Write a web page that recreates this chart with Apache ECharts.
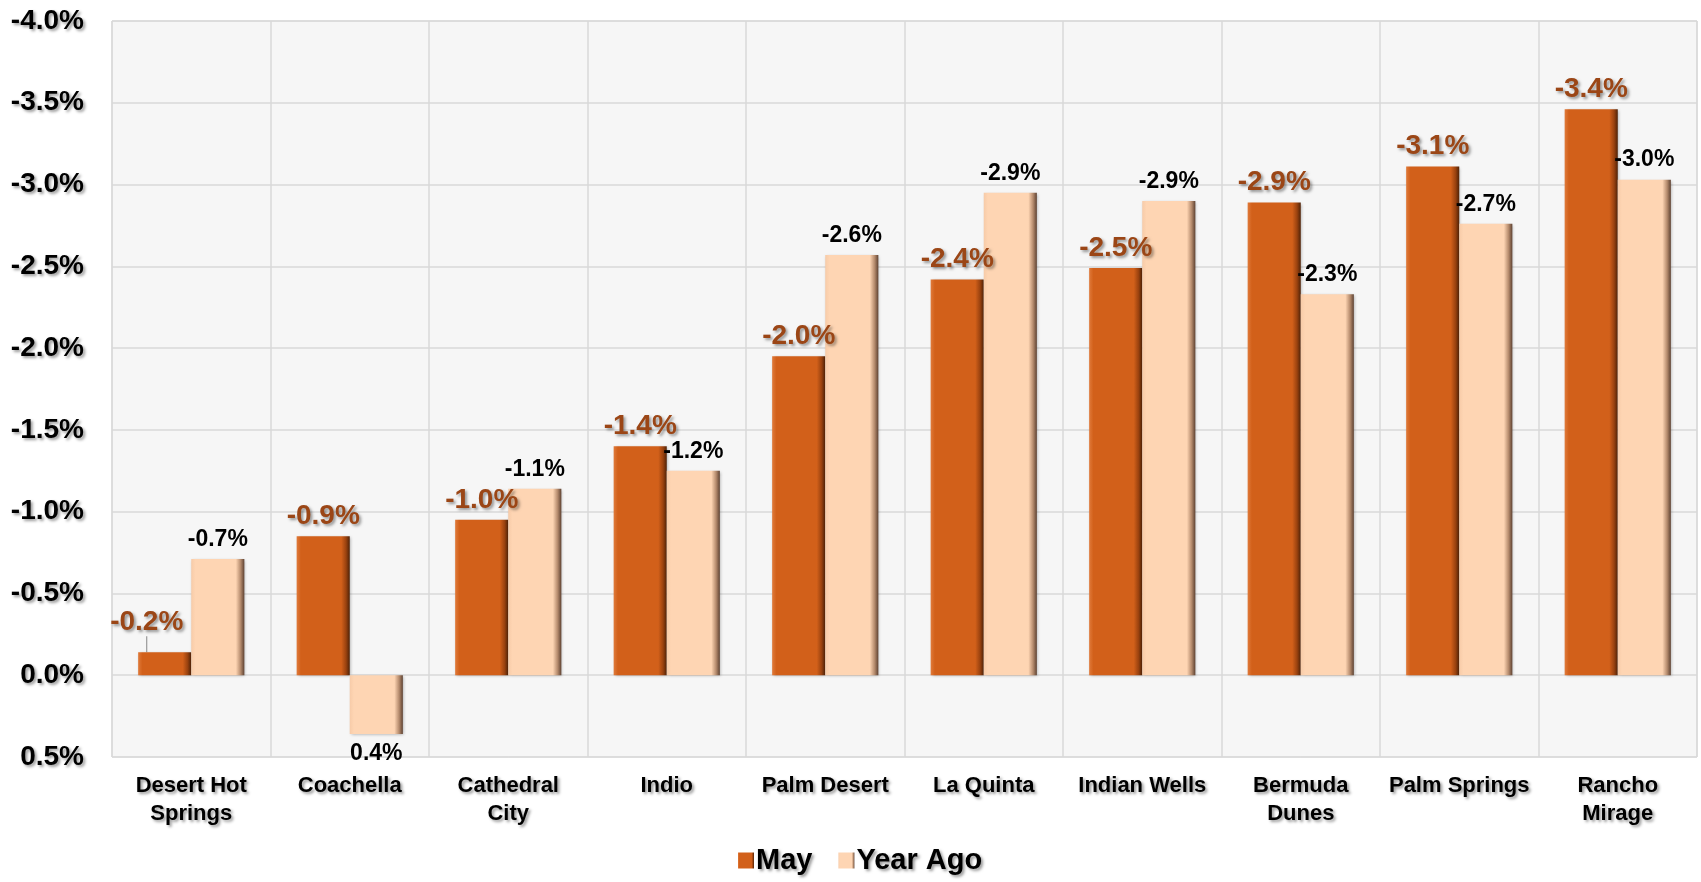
<!DOCTYPE html>
<html>
<head>
<meta charset="utf-8">
<title>May vs Year Ago</title>
<script src="https://cdn.jsdelivr.net/npm/echarts@6/dist/echarts.min.js"></script>
<style>
  html, body { margin: 0; padding: 0; background: #fff; }
  #main { width: 1701px; height: 882px; }
</style>
</head>
<body>
<div id="main"></div>
<script>
// 数据
var categories = ['Desert Hot\nSprings', 'Coachella', 'Cathedral\nCity', 'Indio', 'Palm Desert',
  'La Quinta', 'Indian Wells', 'Bermuda\nDunes', 'Palm Springs', 'Rancho\nMirage'];
var mayValues = [-0.14, -0.85, -0.95, -1.40, -1.95, -2.42, -2.49, -2.89, -3.11, -3.46];
var yearAgoValues = [-0.71, 0.36, -1.14, -1.25, -2.57, -2.95, -2.90, -2.33, -2.76, -3.03];
var mayLabels = ['-0.2%', '-0.9%', '-1.0%', '-1.4%', '-2.0%', '-2.4%', '-2.5%', '-2.9%', '-3.1%', '-3.4%'];
var yearAgoLabels = ['-0.7%', '0.4%', '-1.1%', '-1.2%', '-2.6%', '-2.9%', '-2.9%', '-2.3%', '-2.7%', '-3.0%'];
var yMin = -4.0, yMax = 0.5, yStep = 0.5;

var font = '"Liberation Sans", Arial, sans-serif';
var textShadow = {
  textShadowColor: 'rgba(0,0,0,0.4)',
  textShadowBlur: 3,
  textShadowOffsetX: 2,
  textShadowOffsetY: 2
};

function barFill(light, base, dark, darkest) {
  return new echarts.graphic.LinearGradient(0, 0, 1, 0, [
    { offset: 0, color: light },
    { offset: 0.08, color: base },
    { offset: 0.84, color: base },
    { offset: 0.93, color: dark },
    { offset: 1, color: darkest }
  ]);
}

var chartDom = document.getElementById('main');
var myChart = echarts.init(chartDom);
var option;

option = {
  animation: false,
  backgroundColor: '#ffffff',
  textStyle: { fontFamily: font },
  grid: {
    left: 112,
    right: 4,
    top: 21,
    bottom: 125,
    show: true,
    backgroundColor: '#f6f6f6',
    borderColor: '#d9d9d9',
    borderWidth: 1
  },
  legend: {
    bottom: 2,
    left: 733,
    itemWidth: 16,
    itemHeight: 16,
    itemGap: 26,
    icon: 'rect',
    textStyle: Object.assign({
      fontFamily: font,
      fontSize: 29,
      fontWeight: 'bold',
      color: '#000',
      padding: [0, 0, 0, -3]
    }, textShadow),
    data: ['May', 'Year Ago']
  },
  xAxis: {
    type: 'category',
    data: categories,
    axisLine: { show: false, onZero: false },
    axisTick: { show: false },
    splitLine: { show: true, lineStyle: { color: '#d9d9d9', width: 1.5 } },
    axisLabel: Object.assign({
      interval: 0,
      margin: 15,
      fontFamily: font,
      fontSize: 22,
      fontWeight: 'bold',
      lineHeight: 28,
      color: '#000'
    }, textShadow)
  },
  yAxis: {
    type: 'value',
    inverse: true,
    min: yMin,
    max: yMax,
    interval: yStep,
    axisLine: { show: false },
    axisTick: { show: false },
    splitLine: { lineStyle: { color: '#d9d9d9', width: 1.5 } },
    axisLabel: Object.assign({
      margin: 28,
      fontFamily: font,
      fontSize: 28,
      fontWeight: 'bold',
      color: '#000',
      formatter: function (v) { return v.toFixed(1) + '%'; }
    }, textShadow)
  },
  series: [
    {
      name: 'May',
      type: 'bar',
      barGap: '0%',
      barCategoryGap: '33%',
      data: mayValues.map(function (v, i) {
        return i === 0 ? { value: v, labelLine: { show: true } } : v;
      }),
      itemStyle: {
        color: barFill('#e07a3a', '#d2601a', '#9a420f', '#4f2207'),
        shadowColor: 'rgba(0,0,0,0.3)',
        shadowBlur: 3,
        shadowOffsetX: 1,
        shadowOffsetY: 1
      },
      label: Object.assign({
        show: true,
        position: 'top',
        distance: 6,
        fontFamily: font,
        fontSize: 28,
        fontWeight: 'bold',
        color: '#9b4616',
        formatter: function (p) { return mayLabels[p.dataIndex]; }
      }, textShadow),
      labelLine: { show: false, lineStyle: { color: '#9a9a9a', width: 1.2 } },
      labelLayout: function (p) {
        if (p.dataIndex === 0) return { dx: -18, dy: -10 };
        return {};
      }
    },
    {
      name: 'Year Ago',
      type: 'bar',
      data: yearAgoValues.map(function (v) {
        return v > 0 ? { value: v, label: { position: 'bottom' } } : v;
      }),
      itemStyle: {
        color: barFill('#f7cba8', '#fed5b3', '#b48a6c', '#5e4232'),
        shadowColor: 'rgba(0,0,0,0.3)',
        shadowBlur: 3,
        shadowOffsetX: 1,
        shadowOffsetY: 1
      },
      label: {
        show: true,
        position: 'top',
        distance: 8,
        fontFamily: font,
        fontSize: 23,
        fontWeight: 'bold',
        color: '#000',
        formatter: function (p) { return yearAgoLabels[p.dataIndex]; }
      }
    }
  ]
};

option && myChart.setOption(option);
</script>
</body>
</html>
